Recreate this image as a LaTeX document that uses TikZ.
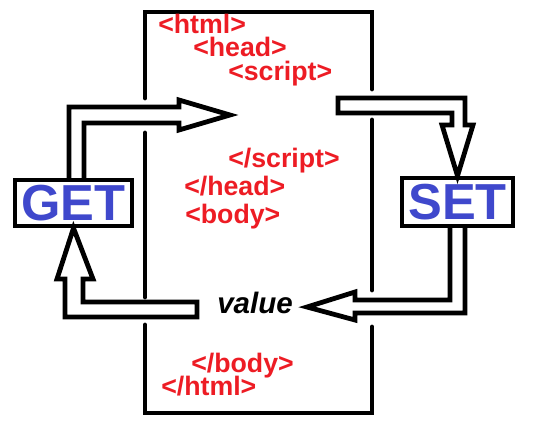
\documentclass[tikz,border=0pt]{standalone}
\usepackage{fontspec}
\setmainfont{Liberation Sans}
\usepackage{xcolor}
\usepackage{tikz}
\usetikzlibrary{positioning,calc}
\definecolor{tagred}{HTML}{ED1C24}
\definecolor{callblue}{HTML}{3F48CC}

\begin{document}
\begin{tikzpicture}[x=0.025cm, y=-0.025cm,
  frameline/.style={line width=3.4pt, line cap=round},
  hollow/.style={line width=3.4pt, fill=white, line join=miter},
  callbox/.style={draw, line width=3pt, fill=white, inner sep=0pt, font=\fontsize{36}{36}\selectfont\bfseries, text=callblue},
  tag/.style={anchor=base west, inner sep=0pt, font=\fontsize{19}{19}\selectfont\bfseries, text=tagred}]
  \useasboundingbox (0,0) rectangle (536,429);

  % page of the document
  \draw[frameline] (145,98) -- (145,12) -- (372,12) -- (372,89);
  \draw[frameline] (145,133) -- (145,297);
  \draw[frameline] (372,120) -- (372,290);
  \draw[frameline] (145,325) -- (145,413) -- (372,413) -- (372,327);

  % tags
  \node[tag] (html) at (158,33) {<html>};
  \node[tag] (head) at (193,56) {<head>};
  \node[tag] (script) at (228,80) {<script>};
  \node[tag] (escript) at (228,167) {</script>};
  \node[tag] (ehead) at (184,195) {</head>};
  \node[tag] (body) at (185,223) {<body>};
  \node[tag] (ebody) at (191,372) {</body>};
  \node[tag] (ehtml) at (161,395) {</html>};
  \node[anchor=base west, inner sep=0pt, font=\fontsize{21}{21}\selectfont\bfseries\itshape] (value) at (217,313) {value};

  % GET / SET boxes
  \node[callbox, minimum width=2.925cm, minimum height=1.15cm] (get) at (73.5,203) {GET};
  \node[callbox, minimum width=2.775cm, minimum height=1.2cm] (set) at (457.5,202) {SET};

  % hollow arrows
  \draw[hollow] (get.north -| 69,0) -- (69,107) -- (179,107) -- (179,100) -- (230,115) -- (179,130) -- (179,123) -- (84,123) -- (get.north -| 84,0);
  \draw[hollow] (338,98) -- (465,98) -- (465,125) -- (473,125) -- (set.north) -- (442,125) -- (452,125) -- (452,113) -- (338,113) -- cycle;
  \draw[hollow] (set.south -| 450,0) -- (450,300) -- (355,300) -- (355,292) -- (307,307) -- (355,320) -- (355,313) -- (465,313) -- (set.south -| 465,0);
  \draw[hollow] (197,302) -- (83,302) -- (83,279) -- (93,279) -- (get.south) -- (57,279) -- (65,279) -- (65,317) -- (197,317) -- cycle;
\end{tikzpicture}
\end{document}
